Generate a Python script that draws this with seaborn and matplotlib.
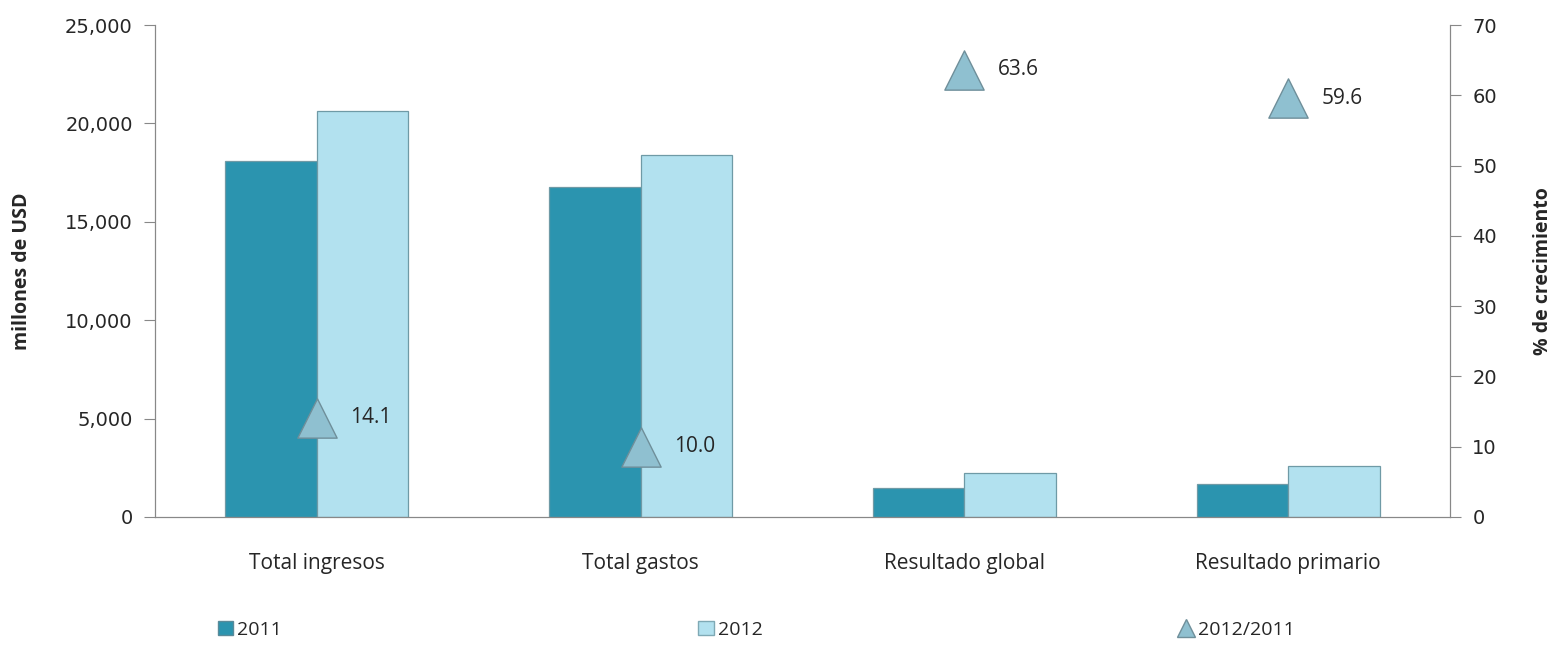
import matplotlib
matplotlib.use("Agg")
import matplotlib.pyplot as plt
import seaborn as sns
import pandas as pd
from matplotlib.lines import Line2D
from matplotlib.patches import Patch
from matplotlib.ticker import FuncFormatter

categories = ["Total ingresos", "Total gastos", "Resultado global", "Resultado primario"]
values_2011 = [18100, 16750, 1450, 1700]
values_2012 = [20650, 18380, 2250, 2600]
growth = [14.1, 10.0, 63.6, 59.6]

c2011 = "#2B94AF"
c2012 = "#B2E1EF"
ctri = "#8FC0D0"

sns.set_style("white")
plt.rcParams["font.family"] = ["Open Sans", "DejaVu Sans"]

df = pd.DataFrame({
    "cat": categories * 2,
    "year": ["2011"] * 4 + ["2012"] * 4,
    "val": values_2011 + values_2012,
})

fig = plt.figure(figsize=(15.53, 6.53), dpi=100)
ax = fig.add_axes([0.0998, 0.2083, 0.8339, 0.7534])

sns.barplot(data=df, x="cat", y="val", hue="year", palette=[c2011, c2012],
            saturation=1, width=0.565, ax=ax, legend=False,
            edgecolor="#6f9aa6", linewidth=0.9)

ax.set_xlim(-0.5, 3.5)
ax.set_ylim(0, 25000)
ax.set_yticks(range(0, 25001, 5000))
ax.yaxis.set_major_formatter(FuncFormatter(lambda v, p: f"{int(v):,}"))
for t in ax.get_yticklabels():
    t.set_fontfamily("DejaVu Sans")
ax.set_xlabel("")
ax.set_ylabel("millones de USD", fontsize=14, fontweight="bold", labelpad=24)
ax.set_xticks([0, 1, 2, 3])
ax.set_xticklabels(categories, fontsize=15)
ax.set_xticks([-0.5, 0.5, 1.5, 2.5, 3.5], minor=True)
ax.tick_params(axis="x", which="major", length=0, pad=26)
ax.tick_params(axis="x", which="minor", length=8, color="#888888", direction="out")
ax.tick_params(axis="y", labelsize=14, length=8, color="#888888", direction="out",
               left=True, pad=8)

for s in ["left", "bottom", "right"]:
    ax.spines[s].set_color("#888888")
ax.spines["top"].set_visible(False)

ax2 = ax.twinx()
sns.scatterplot(x=list(range(len(categories))), y=growth, marker="^", s=800,
                color=ctri, edgecolor="#6f8f9a", linewidth=1, ax=ax2, zorder=5)
ax2.set_ylim(0, 70)
ax2.set_xlim(-0.5, 3.5)
ax2.set_yticks(range(0, 71, 10))
ax2.tick_params(axis="y", labelsize=14, length=8, color="#888888", direction="out",
                right=True, pad=8)
for t in ax2.get_yticklabels():
    t.set_fontfamily("DejaVu Sans")
ax2.set_ylabel("% de crecimiento", fontsize=14, fontweight="bold", labelpad=26)
for s in ["left", "bottom", "right"]:
    ax2.spines[s].set_color("#888888")
ax2.spines["top"].set_visible(False)

for i, g in enumerate(growth):
    ax2.annotate(f"{g:.1f}", (i, g), xytext=(24, 0), textcoords="offset points",
                 va="center", ha="left", fontsize=15)

handles = [
    Patch(facecolor=c2011, edgecolor="#5a8a99"),
    Patch(facecolor=c2012, edgecolor="#7fa9b5"),
    Line2D([], [], marker="^", linestyle="none", markersize=13,
           markerfacecolor=ctri, markeredgecolor="#6f8f9a"),
]
fig.legend(handles, ["2011", "2012", "2012/2011"], loc="lower left",
           bbox_to_anchor=(0.129, -0.005), ncol=3, frameon=False, fontsize=14,
           columnspacing=21.4, handlelength=0.8, handletextpad=0.2)

fig.savefig("out.png", dpi=100)
